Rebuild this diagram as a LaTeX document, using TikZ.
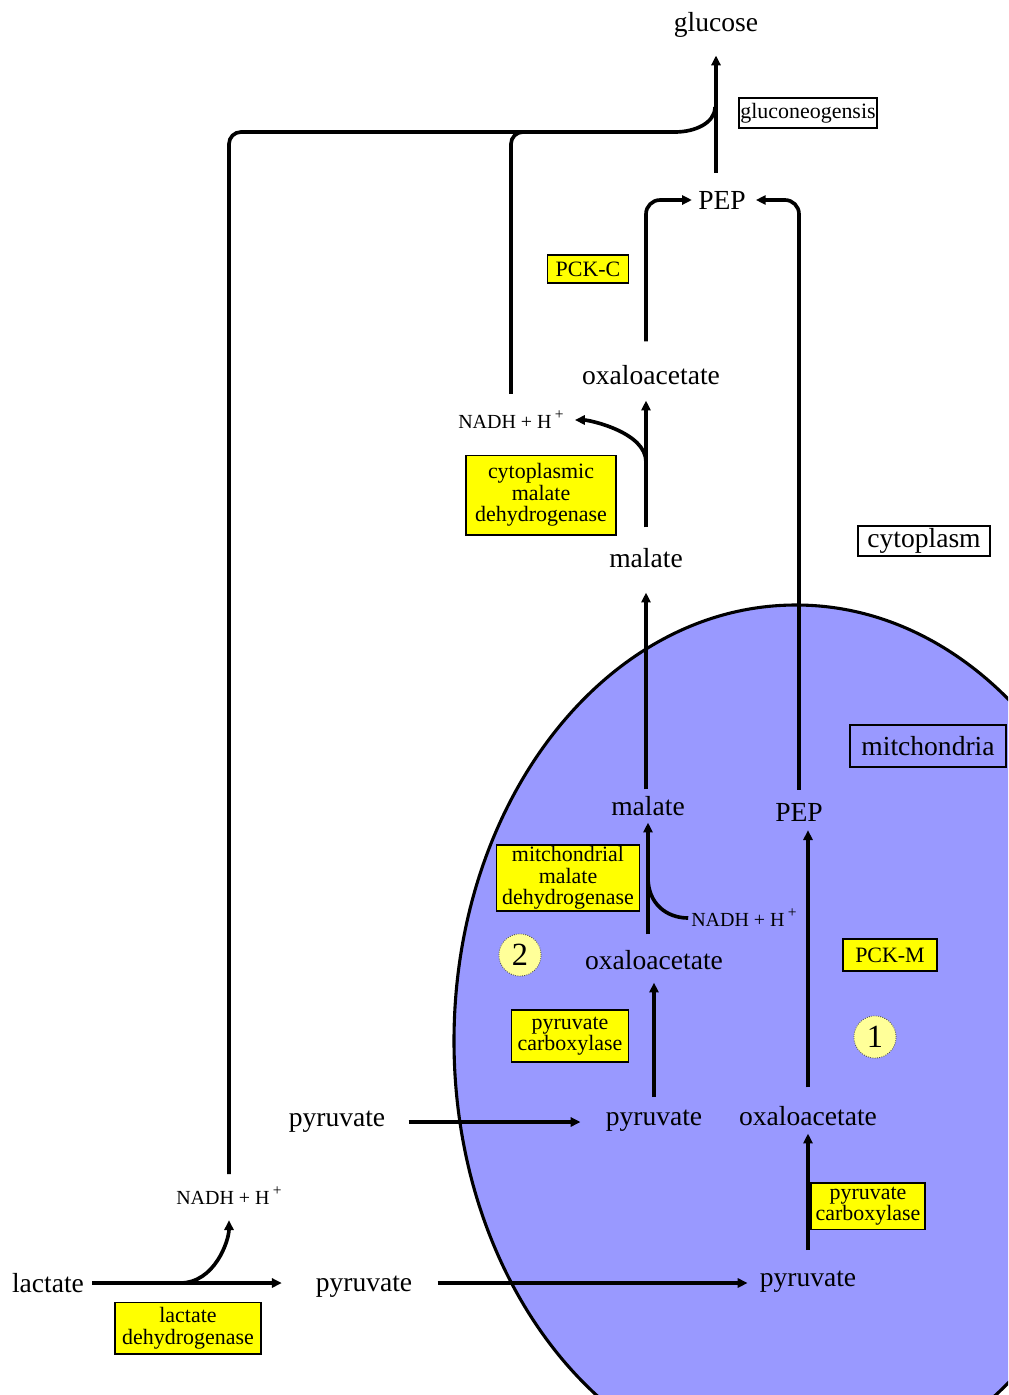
\documentclass[tikz,border=0pt]{standalone}
\usepackage{fontspec}
\setmainfont{Liberation Serif}
\usetikzlibrary{arrows.meta}
\definecolor{mito}{HTML}{9999FF}
\definecolor{enzy}{HTML}{FFFF00}
\definecolor{pale}{HTML}{FFFF99}
\newcommand{\nadh}{NADH + H\,\raisebox{0.45em}{\fontsize{11}{11}\selectfont +}}
\tikzset{
  met/.style={inner sep=0pt,font=\fontsize{19.6}{21}\selectfont},
  cof/.style={inner sep=0pt,font=\fontsize{14.2}{15}\selectfont},
  enz/.style={draw=black,line width=1.4pt,fill=#1,align=center,inner sep=1pt,font=\fontsize{15.6}{15.3}\selectfont},
  enz/.default=enzy,
  tag/.style={draw=black,line width=1.4pt,inner sep=1pt,font=\fontsize{19.6}{21}\selectfont},
  num/.style={circle,draw=black!70,densely dotted,line width=0.6pt,fill=pale,minimum size=30pt,inner sep=0pt,font=\fontsize{23}{23}\selectfont},
  rxn/.style={line width=2.6pt,-{Triangle[length=7pt,width=6.5pt]}},
  wire/.style={line width=2.6pt},
}
\begin{document}
\begin{tikzpicture}[x=0.025cm,y=-0.025cm]
  \useasboundingbox (0,0) rectangle (1008,1395);
  \clip (0,0) rectangle (1008,1395);
  \fill[white] (0,0) rectangle (1008,1395);
  % mitochondrion
  \draw[line width=2.2pt,fill=mito] (796,1041) ellipse [x radius=342,y radius=436];

  % cytoplasm side
  \node[met] (glucose) at (716,25) {glucose};
  \node[enz=white,minimum width=97.4pt,minimum height=21.3pt] (gng) at (808,113) {gluconeogensis};
  \node[met] (pepC) at (722,200) {PEP};
  \node[enz,minimum width=57.6pt,minimum height=19.9pt] (pckC) at (588,269) {PCK-C};
  \node[met] (oaaC) at (651,375) {oxaloacetate};
  \node[cof] (nadhC) at (511,420) {\nadh};
  \node[enz,minimum width=106.7pt,minimum height=56.2pt] (mdhC) at (541,495) {cytoplasmic\\malate\\dehydrogenase};
  \node[met] (malC) at (646,558) {malate};
  \node[tag,fill=white,minimum width=93.2pt,minimum height=22pt] (cyto) at (924,541) {cytoplasm};
  \node[met] (pyrC1) at (337,1122) {pyruvate};
  \node[cof] (nadhL) at (229,1196) {\nadh};
  \node[met] (lactate) at (48,1283) {lactate};
  \node[met] (pyrC2) at (364,1287) {pyruvate};
  \node[enz,minimum width=103.9pt,minimum height=36.3pt] (ldh) at (188,1328) {lactate\\dehydrogenase};

  % mitochondrion side
  \node[tag,minimum width=111pt,minimum height=29.9pt] (mitolbl) at (928,746) {mitchondria};
  \node[met] (malM) at (648,806) {malate};
  \node[met] (pepM) at (799,812) {PEP};
  \node[enz,minimum width=101.7pt,minimum height=46.9pt] (mdhM) at (568,878) {mitchondrial\\malate\\dehydrogenase};
  \node[cof] (nadhM) at (744,918) {\nadh};
  \node[num] (two) at (520,955) {2};
  \node[met] (oaaML) at (654,960) {oxaloacetate};
  \node[enz,minimum width=66.9pt,minimum height=22.8pt] (pckM) at (890,955) {PCK-M};
  \node[num] (one) at (875,1037) {1};
  \node[enz,minimum width=83.2pt,minimum height=37pt] (pcL) at (570,1036) {pyruvate\\carboxylase};
  \node[met] (pyrML) at (654,1121) {pyruvate};
  \node[met] (oaaMR) at (808,1116) {oxaloacetate};
  \node[enz,minimum width=80.4pt,minimum height=33.4pt] (pcR) at (868,1206) {pyruvate\\carboxylase};
  \node[met] (pyrMB) at (808,1282) {pyruvate};

  \coordinate (merge) at (715,107);
  \coordinate (busR) at (663,132);
  \coordinate (forkC) at (646,462);
  \coordinate (forkM) at (648,878);
  \coordinate (forkL) at (180,1283);

  % NADH lines up to gluconeogenesis
  \draw[wire,rounded corners=8.5pt,shorten <=9pt] (nadhL.north) |- (busR) .. controls +(32,0) and +(0,16) .. (merge);
  \draw[wire,rounded corners=8.5pt,shorten <=12pt] (nadhC.north) |- (busR);
  \draw[rxn,shorten <=12.8pt,shorten >=12.6pt] (pepC.north -| glucose.south) -- (glucose.south);

  % cytoplasm reactions
  \draw[rxn,rounded corners=10pt,shorten <=16.8pt,shorten >=4.3pt] (oaaC.north -| malC.north) |- (pepC.west);
  \draw[rxn,rounded corners=10pt,shorten <=9.2pt,shorten >=7pt] (pepM.north) |- (pepC.east);
  \draw[rxn,shorten <=14.7pt,shorten >=11.1pt] (malC.north) -- (malC.north |- oaaC.south);
  \draw[rxn,shorten >=7.8pt] (forkC) .. controls +(0,-30) and +(25,0) .. (nadhC.east);
  \draw[rxn,shorten <=5.7pt,shorten >=24pt] (lactate.east) -- (lactate.east -| pyrC2.west);
  \draw[rxn,shorten >=10.7pt] (forkL) .. controls +(35,0) and +(0,35) .. (nadhL.south);

  % into and inside the mitochondrion
  \draw[rxn,shorten <=4.7pt,shorten >=17.5pt] (malM.north -| malC.south) -- (malC.south);
  \draw[rxn,shorten <=11.1pt,shorten >=4.7pt] (oaaML.north -| malM.south) -- (malM.south);
  \draw[wire,shorten >=2pt] (forkM) .. controls +(0,25) and +(-25,0) .. (nadhM.west);
  \draw[rxn,shorten <=9.2pt,shorten >=9pt] (pyrML.north) -- (pyrML.north |- oaaML.south);
  \draw[rxn,shorten <=16.4pt,shorten >=17.8pt] (pyrC1.east) -- (pyrC1.east -| pyrML.west);
  \draw[rxn,shorten <=13.2pt,shorten >=6.3pt] (oaaMR.north) -- (oaaMR.north |- pepM.south);
  \draw[rxn,shorten <=14.8pt,shorten >=5.4pt] (pyrMB.north) -- (pyrMB.north |- oaaMR.south);
  \draw[rxn,shorten <=17.8pt,shorten >=8.5pt] (pyrC2.east |- lactate.east) -- (pyrMB.west |- lactate.east);
\end{tikzpicture}
\end{document}
